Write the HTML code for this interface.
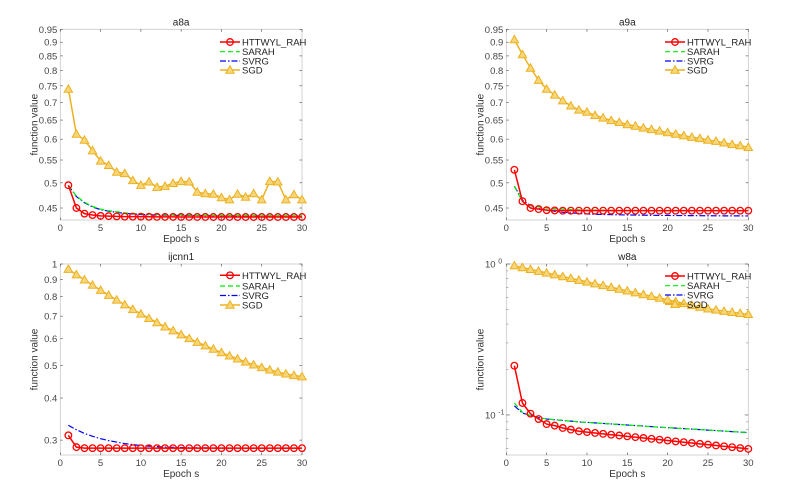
<!DOCTYPE html>
<html><head><meta charset="utf-8"><style>
body{margin:0;background:#fff;}
svg{display:block;font-family:"Liberation Sans",Arial,sans-serif;}
</style></head><body>
<svg id="fig" width="793" height="485" viewBox="0 0 793 485" xmlns="http://www.w3.org/2000/svg"></svg>
<script>
const epochs = Array.from({length:30},(_, i)=>i+1);
const seriesNames = ["HTTWYL_RAH","SARAH","SVRG","SGD"];
// a8a
const a8aHTT = [0.495,0.450,0.4395,0.437,0.4355,0.435,0.4345,0.434,0.434,0.434,0.4338,0.4337,0.4336,0.4336,0.4335,0.4335,0.4335,0.4335,0.4334,0.4334,0.4334,0.4334,0.4334,0.4334,0.4334,0.4334,0.4334,0.4334,0.4334,0.4334];
const a8aSARAH = [0.495,0.473,0.461,0.453,0.448,0.445,0.443,0.441,0.440,0.439,0.4385,0.438,0.4375,0.437,0.437,0.4367,0.4365,0.4363,0.4362,0.436,0.436,0.436,0.4358,0.4357,0.4356,0.4356,0.4355,0.4355,0.4355,0.4355];
const a8aSVRG = [0.495,0.472,0.460,0.452,0.447,0.444,0.442,0.440,0.439,0.438,0.4375,0.437,0.4368,0.4365,0.4362,0.436,0.436,0.4358,0.4357,0.4356,0.4355,0.4355,0.4354,0.4354,0.4353,0.4353,0.4353,0.4352,0.4352,0.4352];
const a8aSGD = [0.740,0.613,0.598,0.572,0.548,0.538,0.523,0.520,0.505,0.495,0.502,0.491,0.493,0.499,0.503,0.502,0.481,0.478,0.477,0.470,0.466,0.477,0.471,0.478,0.466,0.503,0.502,0.466,0.476,0.466];
// a9a
const a9aHTT = [0.528,0.463,0.450,0.448,0.446,0.4455,0.445,0.445,0.445,0.445,0.445,0.445,0.445,0.445,0.445,0.445,0.445,0.445,0.445,0.445,0.445,0.445,0.445,0.445,0.445,0.445,0.445,0.445,0.445,0.445];
const a9aSARAH = [0.493,0.462,0.455,0.452,0.450,0.449,0.448,0.447,0.4465,0.446,0.446,0.4458,0.4456,0.4455,0.4455,0.4453,0.4452,0.4452,0.4451,0.445,0.445,0.445,0.445,0.445,0.445,0.445,0.445,0.445,0.445,0.445];
const a9aSVRG = [0.493,0.465,0.455,0.449,0.446,0.444,0.442,0.441,0.440,0.439,0.4385,0.438,0.4377,0.4374,0.4371,0.4369,0.4367,0.4365,0.4363,0.4362,0.4361,0.436,0.4359,0.4358,0.4357,0.4356,0.4355,0.4354,0.4354,0.4353];
const a9aSGD = [0.910,0.855,0.808,0.768,0.740,0.722,0.705,0.690,0.678,0.672,0.663,0.656,0.649,0.644,0.638,0.634,0.629,0.625,0.621,0.617,0.613,0.609,0.605,0.602,0.598,0.595,0.591,0.587,0.584,0.580];
// ijcnn1
const ijHTT = [0.310,0.286,0.284,0.284,0.284,0.284,0.284,0.284,0.284,0.284,0.284,0.284,0.284,0.284,0.284,0.284,0.284,0.284,0.284,0.284,0.284,0.284,0.284,0.284,0.284,0.284,0.284,0.284,0.284,0.284];
const ijSARAH = [0.310,0.286,0.284,0.284,0.284,0.284,0.284,0.284,0.284,0.284,0.284,0.284,0.284,0.284,0.284,0.284,0.284,0.284,0.284,0.284,0.284,0.284,0.284,0.284,0.284,0.284,0.284,0.284,0.284,0.284];
const ijSVRG = [0.332,0.322,0.314,0.308,0.303,0.299,0.296,0.293,0.291,0.289,0.288,0.287,0.286,0.2855,0.285,0.2848,0.2846,0.2845,0.2844,0.2843,0.2842,0.2842,0.2841,0.2841,0.284,0.284,0.284,0.284,0.284,0.284];
const ijSGD = [0.965,0.930,0.898,0.866,0.836,0.808,0.782,0.757,0.733,0.711,0.690,0.670,0.651,0.634,0.617,0.601,0.586,0.572,0.559,0.546,0.534,0.523,0.512,0.502,0.493,0.485,0.478,0.472,0.467,0.463];
// w8a
const w8HTT = [0.212,0.120,0.102,0.094,0.087,0.085,0.082,0.080,0.078,0.077,0.076,0.075,0.074,0.0731,0.0722,0.0713,0.0704,0.0695,0.0686,0.0677,0.0668,0.066,0.0652,0.0644,0.0636,0.0628,0.062,0.0612,0.0604,0.0596];
const w8SARAH = [0.120,0.104,0.099,0.096,0.094,0.093,0.092,0.091,0.090,0.0893,0.0886,0.0879,0.0872,0.0865,0.0858,0.0851,0.0844,0.0837,0.083,0.0824,0.0818,0.0812,0.0806,0.08,0.0794,0.0788,0.0782,0.0776,0.077,0.0764];
const w8SVRG = [0.115,0.103,0.099,0.096,0.094,0.093,0.092,0.091,0.090,0.0893,0.0886,0.0879,0.0872,0.0865,0.0858,0.0851,0.0844,0.0837,0.083,0.0824,0.0818,0.0812,0.0806,0.08,0.0794,0.0788,0.0782,0.0776,0.077,0.0764];
const w8SGD = [0.974,0.948,0.922,0.897,0.873,0.849,0.826,0.804,0.782,0.761,0.741,0.721,0.701,0.682,0.664,0.646,0.628,0.611,0.595,0.579,0.563,0.548,0.533,0.519,0.505,0.496,0.487,0.479,0.471,0.464];

const linTicks = ["0.45","0.5","0.55","0.6","0.65","0.7","0.75","0.8","0.85","0.9","0.95"];
const ijTicks = ["0.3","0.4","0.5","0.6","0.7","0.8","0.9","1"];
const xTicks = [0,5,10,15,20,25,30];

const NS="http://www.w3.org/2000/svg";
const svg=document.getElementById('fig');
function mk(tag,attrs,parent){const e=document.createElementNS(NS,tag);for(const k in attrs)e.setAttribute(k,attrs[k]);(parent||svg).appendChild(e);return e;}

const styles=[
 {color:"#ff0000",dash:"",marker:"circle",w:1.5},
 {color:"#00ee00",dash:"5,3",marker:null,w:1.2},
 {color:"#0000ff",dash:"6,2,1.5,2",marker:null,w:1.2},
 {color:"#EDB120",dash:"",marker:"tri",w:1.5}
];

function drawMarker(g,type,x,y,color){
  if(type==="circle"){
    const c=mk('circle',{cx:x,cy:y,r:3.3,fill:"none",stroke:color,'stroke-width':1.3},g);
    
    
  } else if(type==="tri"){
    const p=mk('polygon',{points:`${x},${y-4.2} ${x-4.2},${y+3.2} ${x+4.2},${y+3.2}`,fill:"#f6d67a",stroke:color,'stroke-width':1},g);
    
    
  }
}

function plot(cfg){
  const {name,L,R,T,B,ymin,ymax,yTicks,isW8,series,legX,legY}=cfg;
  const g=mk('g',{});
  
  
  const xs=v=>L+(v-0)/30*(R-L);
  const ys=v=>B-(Math.log(v)-Math.log(ymin))/(Math.log(ymax)-Math.log(ymin))*(B-T);
  const box=mk('rect',{x:L,y:T,width:R-L,height:B-T,fill:"#fff",stroke:"#c8c8c8",'stroke-width':0.8},g);
  
  
  xTicks.forEach(t=>{
    const x=xs(t);
    mk('line',{x1:x,y1:B,x2:x,y2:B-2.5,stroke:"#444",'stroke-width':0.6},g);
    mk('line',{x1:x,y1:T,x2:x,y2:T+2.5,stroke:"#444",'stroke-width':0.6},g);
    const tx=mk('text',{x:x,y:B+11,'font-size':9.5,'text-anchor':'middle',fill:'#444'},g);
    tx.textContent=t;
    
    
  });
  if(isW8){
    [1,0.1].forEach(v=>{
      const y=ys(v);
      mk('line',{x1:L,y1:y,x2:L+3.5,y2:y,stroke:"#444",'stroke-width':0.6},g);
      mk('line',{x1:R,y1:y,x2:R-3.5,y2:y,stroke:"#444",'stroke-width':0.6},g);
      const tx=mk('text',{x:L-16,y:y+3.5,'font-size':9.5,'text-anchor':'middle',fill:'#444'},g);
      tx.textContent='10';
      
      
      const sp=mk('text',{x:L-8,y:y-0.5,'font-size':7,'text-anchor':'start',fill:'#444'},g);
      sp.textContent=v===1?'0':'-1';
    });
    [0.06,0.07,0.08,0.09,0.2,0.3,0.4,0.5,0.6,0.7,0.8,0.9].forEach(v=>{
      const y=ys(v);
      mk('line',{x1:L,y1:y,x2:L+2,y2:y,stroke:"#666",'stroke-width':0.5},g);
      mk('line',{x1:R,y1:y,x2:R-2,y2:y,stroke:"#666",'stroke-width':0.5},g);
    });
  } else {
    yTicks.forEach(s=>{
      const v=parseFloat(s),y=ys(v);
      mk('line',{x1:L,y1:y,x2:L+2.5,y2:y,stroke:"#444",'stroke-width':0.6},g);
      mk('line',{x1:R,y1:y,x2:R-2.5,y2:y,stroke:"#444",'stroke-width':0.6},g);
      const tx=mk('text',{x:L-3,y:y+3.5,'font-size':9.5,'text-anchor':'end',fill:'#444'},g);
      tx.textContent=s;
      
      
    });
  }
  const ti=mk('text',{x:(L+R)/2,y:T-4,'font-size':10,'text-anchor':'middle',fill:'#222'},g);
  ti.textContent=name;
  
  
  const xl=mk('text',{x:(L+R)/2,y:B+22,'font-size':10,'text-anchor':'middle',fill:'#333'},g);
  xl.textContent='Epoch s';
  
  
  const yl=mk('text',{x:0,y:0,'font-size':10,'text-anchor':'middle',fill:'#333',transform:`translate(${L-23},${(T+B)/2}) rotate(-90)`},g);
  yl.textContent='function value';
  
  
  [3,2,1,0].forEach(si=>{
    const st=styles[si],data=series[si];
    const sg=mk('g',{},g);
    
    
    const pts=epochs.map((e,i)=>xs(e).toFixed(2)+','+ys(data[i]).toFixed(2)).join(' ');
    const pl=mk('polyline',{points:pts,fill:'none',stroke:st.color,'stroke-width':st.w,'stroke-dasharray':st.dash},sg);
    
    
    if(st.marker) epochs.forEach((e,i)=>drawMarker(sg,st.marker,xs(e),ys(data[i]),st.color));
  });
  const lg=mk('g',{},g);
  
  
  seriesNames.forEach((n,i)=>{
    const st=styles[i],y=legY[i];
    const le=mk('g',{},lg);
    
    
    mk('line',{x1:legX,y1:y,x2:legX+20,y2:y,stroke:st.color,'stroke-width':st.w,'stroke-dasharray':st.dash},le);
    if(st.marker) drawMarker(le,st.marker,legX+10,y,st.color);
    const t=mk('text',{x:legX+22,y:y+3.5,'font-size':9.5,fill:'#222'},le);
    t.textContent=n;
  });
}

plot({name:"a8a",L:60.3,R:302,T:29.3,B:220,ymin:0.428,ymax:0.95,yTicks:linTicks,series:[a8aHTT,a8aSARAH,a8aSVRG,a8aSGD],legX:220,legY:[42,51.7,61,70]});
plot({name:"a9a",L:506.3,R:748.3,T:29.3,B:220,ymin:0.428,ymax:0.95,yTicks:linTicks,series:[a9aHTT,a9aSARAH,a9aSVRG,a9aSGD],legX:665,legY:[42,51.7,61,70]});
plot({name:"ijcnn1",L:60.3,R:302,T:264,B:455,ymin:0.271,ymax:1,yTicks:ijTicks,series:[ijHTT,ijSARAH,ijSVRG,ijSGD],legX:220,legY:[275.3,286,295.5,305]});
plot({name:"w8a",L:506.3,R:748.3,T:264,B:455,ymin:0.0543,ymax:1,isW8:true,series:[w8HTT,w8SARAH,w8SVRG,w8SGD],legX:665,legY:[276,285.7,295,304.3]});
</script>
</body></html>
